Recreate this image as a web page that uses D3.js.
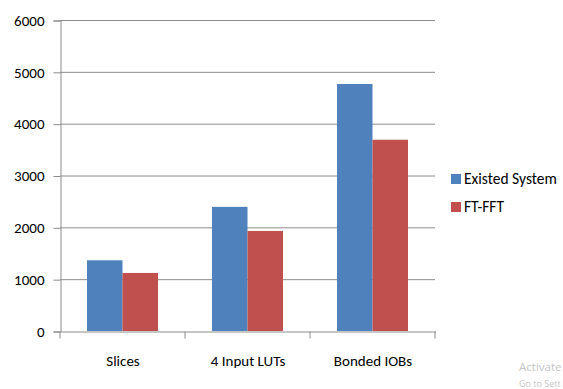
<!DOCTYPE html>
<html>
<head>
<meta charset="utf-8">
<script src="https://cdn.jsdelivr.net/npm/d3@7"></script>
<style>
  html, body { margin: 0; padding: 0; background: #fff; }
  svg { display: block; }
  text { font-family: Carlito, "Liberation Sans Narrow", "Open Sans", "DejaVu Sans Condensed", sans-serif; fill: #000; }
</style>
</head>
<body>
<svg id="chart" width="563" height="389"></svg>
<script>
// Resource utilisation per design
const categories = ["Slices", "4 Input LUTs", "Bonded IOBs"];
const seriesNames = ["Existed System", "FT-FFT"];
const existedSystem = [1364, 2395, 4765];
const ftFft = [1120, 1930, 3690];
const yTicks = [0, 1000, 2000, 3000, 4000, 5000, 6000];
const seriesColors = ["#4F81BD", "#C0504D"];

const svg = d3.select("#chart");
const plot = { left: 60, right: 435, top: 20, bottom: 331 };
const fontSize = "15px";

const x0 = d3.scaleBand().domain(categories).range([plot.left, plot.right]).padding(0);
const x1 = d3.scaleBand().domain(seriesNames).range([0, x0.bandwidth()]).paddingInner(0).paddingOuter(0.76);
const y = d3.scaleLinear().domain([0, 6000]).range([plot.bottom, plot.top]);

// Horizontal gridlines
svg.append("g")
  .selectAll("line")
  .data(yTicks.filter(d => d > 0))
  .join("line")
  .attr("x1", plot.left).attr("x2", plot.right)
  .attr("y1", d => y(d) + 0.5).attr("y2", d => y(d) + 0.5)
  .attr("stroke", "#8c8c8c").attr("stroke-width", 1);

// Bars
const rows = categories.map((c, i) => ({ cat: c, vals: [existedSystem[i], ftFft[i]] }));
svg.append("g")
  .selectAll("g")
  .data(rows)
  .join("g")
  .attr("transform", d => `translate(${x0(d.cat)},0)`)
  .selectAll("rect")
  .data(d => d.vals.map((v, j) => ({ name: seriesNames[j], v, j })))
  .join("rect")
  .attr("x", d => x1(d.name))
  .attr("width", x1.bandwidth())
  .attr("y", d => y(d.v))
  .attr("height", d => y(0) - y(d.v))
  .attr("fill", d => seriesColors[d.j]);

// Y axis
const yAxis = d3.axisLeft(y).tickValues(yTicks).tickSize(7).tickPadding(9).tickFormat(d3.format("d"));
const gy = svg.append("g").attr("transform", `translate(${plot.left + 0.5},0.5)`).call(yAxis);
gy.select(".domain").attr("stroke", "#8c8c8c");
gy.selectAll(".tick line").attr("stroke", "#8c8c8c");
gy.selectAll(".tick text").style("font-size", fontSize).attr("fill", "#000");

// X axis
const xAxis = d3.axisBottom(x0).tickSize(0).tickPadding(23.5);
const gx = svg.append("g").attr("transform", `translate(0.5,${plot.bottom + 0.5})`).call(xAxis);
gx.select(".domain").attr("stroke", "#8c8c8c");
gx.selectAll(".tick text").style("font-size", fontSize).attr("fill", "#000");
// category boundary ticks
const bounds = categories.map(c => x0(c)).concat([x0(categories[categories.length - 1]) + x0.bandwidth()]);
gx.append("g").selectAll("line").data(bounds).join("line")
  .attr("x1", d => d - 0.5).attr("x2", d => d - 0.5)
  .attr("y1", 0).attr("y2", 7)
  .attr("stroke", "#8c8c8c");

// Legend
const legend = svg.append("g").attr("transform", "translate(451,174)");
const li = legend.selectAll("g").data(seriesNames).join("g")
  .attr("transform", (d, i) => `translate(0,${i * 28})`);
li.append("rect").attr("width", 10).attr("height", 10).attr("fill", (d, i) => seriesColors[i]);
li.append("text").attr("x", 13).attr("y", 10).style("font-size", "15.5px").text(d => d);

// Operating system watermark in the bottom-right corner
svg.append("text").attr("x", 519).attr("y", 371)
  .style("font-family", "'Open Sans', sans-serif").style("font-size", "11.5px").style("fill", "#c4c4c4").text("Activate");
svg.append("text").attr("x", 519).attr("y", 387)
  .style("font-family", "'Open Sans', sans-serif").style("font-size", "9px").style("fill", "#c4c4c4").text("Go to Sett");
</script>
</body>
</html>
